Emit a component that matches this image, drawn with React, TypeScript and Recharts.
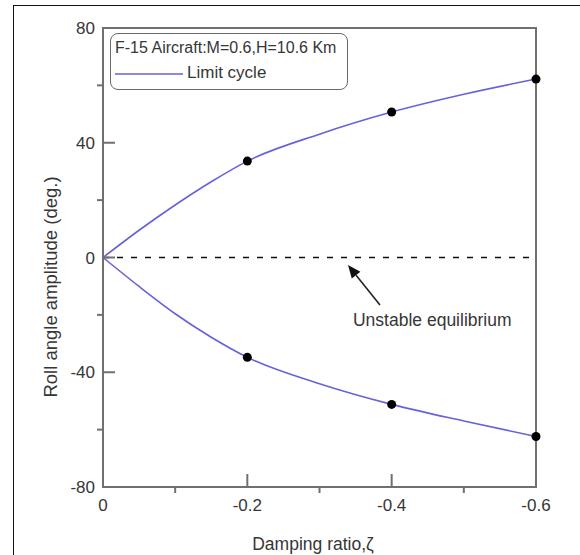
import React from 'react'
import {
  LineChart,
  Line,
  XAxis,
  YAxis,
  ReferenceLine,
  ReferenceArea,
  ReferenceDot,
  Legend,
} from 'recharts'

// damping ratio (x) and roll angle amplitude of the limit cycle, upper / lower branch
const zeta = [0, -0.05, -0.1, -0.15, -0.2, -0.3, -0.4, -0.5, -0.6]
const upperAmp = [0, 9.5, 18.3, 26.4, 33.6, 43.0, 50.7, 56.9, 62.2]
const lowerAmp = [0, -10.1, -19.6, -27.8, -34.8, -44.0, -51.2, -57.0, -62.4]
// computed points drawn as filled markers
const markedZeta = [-0.2, -0.4, -0.6]

const xTicks = [0, -0.1, -0.2, -0.3, -0.4, -0.5, -0.6]
const xMajor = [0, -0.2, -0.4, -0.6]
const yTicks = [80, 60, 40, 20, 0, -20, -40, -60, -80]
const yMajor = [80, 40, 0, -40, -80]

// annotation: arrow tail -> tip, and text anchor (data units)
const arrowPts = [
  { x: -0.3838, y: -16.6 },
  { x: -0.3395, y: -2.6 },
]
const notePos = { x: -0.3464, y: -23.9 }

const data = zeta.map((z, i) => ({ zeta: z, upper: upperAmp[i], lower: lowerAmp[i] }))

const AXIS = '#707070'
const TEXT = '#363636'
const CURVE = '#6662dc'
const FONT = '"Liberation Sans", Arial, sans-serif'

function XTick({ x, y, payload }: any) {
  const major = xMajor.includes(payload.value)
  return (
    <g>
      <line x1={x} x2={x} y1={y} y2={major ? y - 13 : y + 6} stroke={AXIS} strokeWidth={2} />
      {major && (
        <text x={x} y={y + 24} textAnchor="middle" fontSize={17} fill={TEXT} fontFamily={FONT}>
          {String(payload.value)}
        </text>
      )}
    </g>
  )
}

function YTick({ x, y, payload }: any) {
  const major = yMajor.includes(payload.value)
  return (
    <g>
      <line x1={x} x2={major ? x + 12 : x - 6} y1={y} y2={y} stroke={AXIS} strokeWidth={2} />
      {major && (
        <text x={x - 8} y={y + 6} textAnchor="end" fontSize={17} fill={TEXT} fontFamily={FONT}>
          {String(payload.value)}
        </text>
      )}
    </g>
  )
}

function Dot(props: any) {
  const { cx, cy, payload, key } = props
  if (!markedZeta.includes(payload.zeta)) return <g key={key} />
  return <circle key={key} cx={cx} cy={cy} r={4.5} fill="#000" />
}

function Arrow({ x1, y1, x2, y2 }: any) {
  const ang = Math.atan2(y2 - y1, x2 - x1)
  const len = 13
  const half = 5.5
  const bx = x2 - len * Math.cos(ang)
  const by = y2 - len * Math.sin(ang)
  const px = -Math.sin(ang) * half
  const py = Math.cos(ang) * half
  return (
    <g>
      <line x1={x1} y1={y1} x2={bx} y2={by} stroke="#222" strokeWidth={1.6} />
      <polygon points={`${x2},${y2} ${bx + px},${by + py} ${bx - px},${by - py}`} fill="#111" />
    </g>
  )
}

function LegendBox() {
  return (
    <div
      style={{
        position: 'relative',
        width: 238,
        height: 57,
        boxSizing: 'border-box',
        border: '1.5px solid #6a6a6a',
        borderRadius: 8,
        background: '#fff',
        fontFamily: FONT,
        color: TEXT,
      }}
    >
      <div style={{ position: 'absolute', left: 4, top: 5, fontSize: 16, lineHeight: '18px', whiteSpace: 'nowrap' }}>
        F-15 Aircraft:M=0.6,H=10.6 Km
      </div>
      <svg style={{ position: 'absolute', left: 4, top: 38 }} width={70} height={4}>
        <line x1={0} x2={68} y1={2} y2={2} stroke={CURVE} strokeWidth={1.6} />
      </svg>
      <div style={{ position: 'absolute', left: 76, top: 29, fontSize: 17, lineHeight: '20px', whiteSpace: 'nowrap' }}>
        Limit cycle
      </div>
    </div>
  )
}

export default function App() {
  return (
    <div style={{ position: 'absolute', left: 0, top: 0, width: 580, height: 555, overflow: 'hidden', background: '#fff' }}>
      <div
        style={{
          position: 'absolute',
          left: 13,
          top: 5,
          width: 600,
          height: 600,
          borderLeft: '1px solid #111',
          borderTop: '1px solid #111',
        }}
      />
      <div style={{ position: 'absolute', left: 0, top: 0 }}>
        <LineChart width={580} height={555} data={data} margin={{ top: 28, right: 44, bottom: 28, left: 43 }}>
          <XAxis
            dataKey="zeta"
            type="number"
            domain={[-0.6, 0]}
            reversed
            ticks={xTicks}
            interval={0}
            tickSize={0}
            tickMargin={0}
            tickLine={false}
            axisLine={false}
            height={40}
            tick={<XTick />}
            label={(p: any) => {
              const vb = p.viewBox
              return (
                <text x={313} y={vb.y + 63} textAnchor="middle" fontSize={17.5} fill={TEXT} fontFamily={FONT}>
                  Damping ratio,ζ
                </text>
              )
            }}
          />
          <YAxis
            type="number"
            domain={[-80, 80]}
            ticks={yTicks}
            interval={0}
            tickSize={0}
            tickMargin={0}
            tickLine={false}
            axisLine={false}
            width={60}
            tick={<YTick />}
            label={() => (
              <text
                x={50}
                y={287}
                transform="rotate(-90 50 287)"
                textAnchor="middle"
                dominantBaseline="central"
                fontSize={18.5}
                fill={TEXT}
                fontFamily={FONT}
              >
                Roll angle amplitude (deg.)
              </text>
            )}
          />
          <ReferenceArea x1={-0.6} x2={0} y1={-80} y2={80} fill="none" fillOpacity={0} stroke={AXIS} strokeWidth={2} />
          <ReferenceLine y={0} stroke="#111" strokeWidth={1.4} strokeDasharray="6 8" />
          <ReferenceLine segment={arrowPts} shape={(p: any) => <Arrow {...p} />} />
          <ReferenceDot
            x={notePos.x}
            y={notePos.y}
            r={0}
            shape={(p: any) => (
              <text x={p.cx} y={p.cy} fontSize={17.5} fill={TEXT} fontFamily={FONT}>
                Unstable equilibrium
              </text>
            )}
          />
          <Line
            type="monotone"
            dataKey="upper"
            stroke={CURVE}
            strokeWidth={1.6}
            dot={<Dot />}
            activeDot={false}
            isAnimationActive={false}
          />
          <Line
            type="monotone"
            dataKey="lower"
            stroke={CURVE}
            strokeWidth={1.6}
            dot={<Dot />}
            activeDot={false}
            isAnimationActive={false}
          />
          <Legend
            layout="vertical"
            align="center"
            verticalAlign="middle"
            wrapperStyle={{ left: 110, top: 33, width: 238 }}
            content={() => <LegendBox />}
          />
        </LineChart>
      </div>
    </div>
  )
}
